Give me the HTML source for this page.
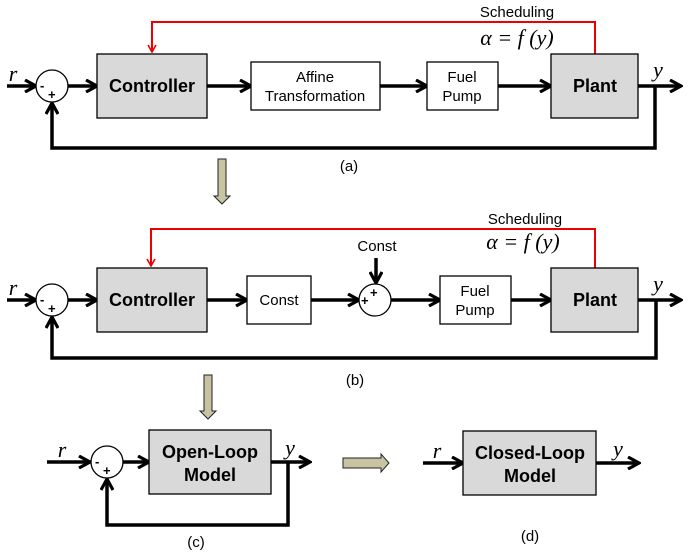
<!DOCTYPE html>
<html><head><style>body{margin:0;background:#fff}svg{display:block}</style></head><body>
<svg width="689" height="552" viewBox="0 0 689 552" xmlns="http://www.w3.org/2000/svg" font-family="Liberation Sans, sans-serif">
<defs>
<marker id="a" markerWidth="14" markerHeight="14" refX="12" refY="7" orient="auto" markerUnits="userSpaceOnUse"><path d="M1,1 L12,7 L1,13" fill="none" stroke="#000" stroke-width="3.2"/></marker>
<marker id="r" markerWidth="10" markerHeight="10" refX="5" refY="9" orient="0" markerUnits="userSpaceOnUse"><path d="M1,2 L5,9 L9,2" fill="none" stroke="#e00" stroke-width="1.6"/></marker>
</defs>
<g stroke="#000" stroke-width="3.5" fill="none">
<line x1="7" y1="86" x2="36" y2="86" marker-end="url(#a)"/>
<line x1="68" y1="86" x2="97" y2="86" marker-end="url(#a)"/>
<line x1="207" y1="86" x2="251" y2="86" marker-end="url(#a)"/>
<line x1="380" y1="86" x2="427" y2="86" marker-end="url(#a)"/>
<line x1="498" y1="86" x2="551" y2="86" marker-end="url(#a)"/>
<line x1="638" y1="86" x2="681" y2="86" marker-end="url(#a)"/>
<polyline points="655,86 655,148 52,148 52,103" marker-end="url(#a)"/>
<line x1="7" y1="300" x2="36" y2="300" marker-end="url(#a)"/>
<line x1="68" y1="300" x2="97" y2="300" marker-end="url(#a)"/>
<line x1="207" y1="300" x2="247" y2="300" marker-end="url(#a)"/>
<line x1="311" y1="300" x2="359" y2="300" marker-end="url(#a)"/>
<line x1="391" y1="300" x2="440" y2="300" marker-end="url(#a)"/>
<line x1="511" y1="300" x2="551" y2="300" marker-end="url(#a)"/>
<line x1="638" y1="300" x2="681" y2="300" marker-end="url(#a)"/>
<line x1="376" y1="258" x2="376" y2="283" marker-end="url(#a)"/>
<polyline points="656,300 656,358 52,358 52,317" marker-end="url(#a)"/>
<line x1="47" y1="462" x2="90" y2="462" marker-end="url(#a)"/>
<line x1="123" y1="462" x2="149" y2="462" marker-end="url(#a)"/>
<line x1="271" y1="462" x2="310" y2="462" marker-end="url(#a)"/>
<polyline points="288,462 288,525 107,525 107,479" marker-end="url(#a)"/>
<line x1="423" y1="463" x2="463" y2="463" marker-end="url(#a)"/>
<line x1="596" y1="463" x2="639" y2="463" marker-end="url(#a)"/>
</g>
<g stroke="#e00" stroke-width="2" fill="none">
<polyline points="595,54 595,22 152,22 152,52" marker-end="url(#r)"/>
<polyline points="595,268 595,229 151,229 151,266" marker-end="url(#r)"/>
</g>
<g stroke="#000" stroke-width="1.3">
<circle cx="52" cy="86" r="16" fill="#fff"/>
<circle cx="52" cy="300" r="16" fill="#fff"/>
<circle cx="375" cy="300" r="16" fill="#fff"/>
<circle cx="107" cy="462" r="16" fill="#fff"/>
<rect x="97" y="54" width="110" height="64" fill="#d9d9d9"/>
<rect x="251" y="62" width="129" height="48" fill="#fff"/>
<rect x="427" y="62" width="71" height="48" fill="#fff"/>
<rect x="551" y="54" width="87" height="64" fill="#d9d9d9"/>
<rect x="97" y="268" width="110" height="64" fill="#d9d9d9"/>
<rect x="247" y="276" width="64" height="48" fill="#fff"/>
<rect x="440" y="276" width="71" height="48" fill="#fff"/>
<rect x="551" y="268" width="87" height="64" fill="#d9d9d9"/>
<rect x="149" y="430" width="122" height="64" fill="#d9d9d9"/>
<rect x="463" y="431" width="133" height="64" fill="#d9d9d9"/>
</g>
<g fill="#c8c3a0" stroke="#222" stroke-width="1">
<path d="M218,159 H226 V196 H230 L222,204 L214,196 H218 Z"/>
<path d="M204,375 H212 V411 H216 L208,419 L200,411 H204 Z"/>
<path d="M343,458 H381 V454 L389,463 L381,472 V468 H343 Z"/>
</g>
<g font-weight="bold" font-size="18" text-anchor="middle" fill="#000">
<text x="152" y="92">Controller</text>
<text x="595" y="92">Plant</text>
<text x="152" y="306">Controller</text>
<text x="595" y="306">Plant</text>
<text x="210" y="458">Open-Loop</text>
<text x="210" y="481">Model</text>
<text x="530" y="459">Closed-Loop</text>
<text x="530" y="482">Model</text>
</g>
<g font-size="15" text-anchor="middle" fill="#000">
<text x="315" y="82">Affine</text>
<text x="315" y="101">Transformation</text>
<text x="462" y="82">Fuel</text>
<text x="462" y="101">Pump</text>
<text x="279" y="305">Const</text>
<text x="475" y="296">Fuel</text>
<text x="475" y="315">Pump</text>
<text x="377" y="251">Const</text>
<text x="517" y="17">Scheduling</text>
<text x="525" y="224">Scheduling</text>
<text x="349" y="171">(a)</text>
<text x="355" y="385">(b)</text>
<text x="196" y="547">(c)</text>
<text x="530" y="541">(d)</text>
</g>
<g font-family="Liberation Serif, serif" font-style="italic" font-size="22" fill="#000" text-anchor="middle">
<text x="13" y="81">r</text>
<text x="13" y="295">r</text>
<text x="62" y="457">r</text>
<text x="437" y="458">r</text>
<text x="658" y="77">y</text>
<text x="658" y="291">y</text>
<text x="290" y="455">y</text>
<text x="618" y="456">y</text>
<text x="517" y="45" font-size="22">α = f (y)</text>
<text x="523" y="249" font-size="22">α = f (y)</text>
</g>
<g font-weight="bold" font-size="13" fill="#000">
<text x="40" y="90">-</text><text x="48" y="99">+</text>
<text x="40" y="304">-</text><text x="48" y="313">+</text>
<text x="95" y="466">-</text><text x="103" y="475">+</text>
<text x="361" y="305">+</text><text x="370" y="297">+</text>
</g>
</svg>
</body></html>
